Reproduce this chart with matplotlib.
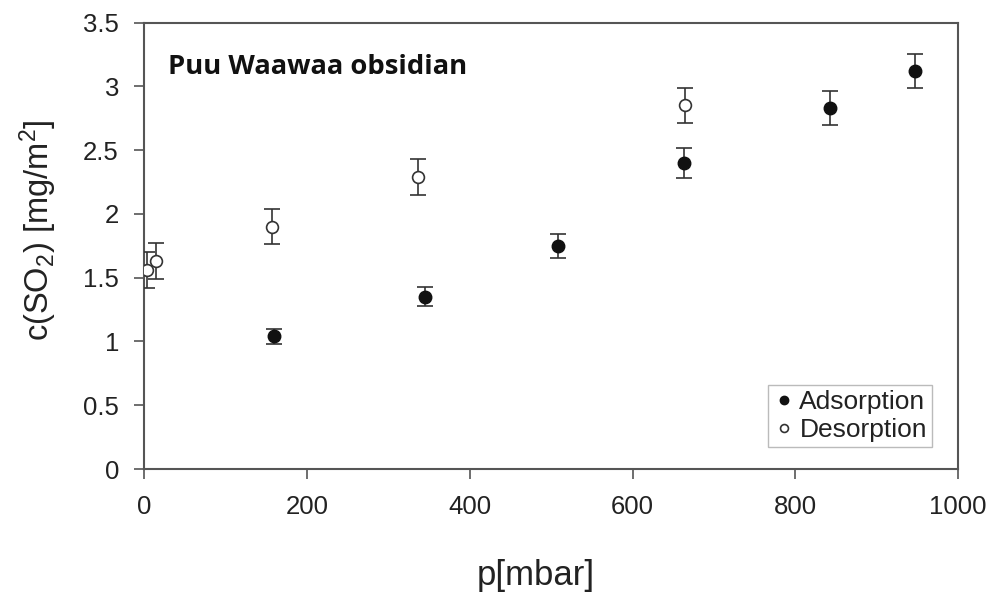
import numpy as np
import matplotlib
matplotlib.use("Agg")
import matplotlib.pyplot as plt

plt.rcParams['font.family'] = ['Liberation Sans', 'DejaVu Sans']
plt.rcParams['mathtext.default'] = 'regular'

# adsorption branch
ads_p = [160, 345, 509, 663, 843, 947]
ads_c = [1.04, 1.35, 1.75, 2.40, 2.83, 3.12]
ads_err = [0.06, 0.075, 0.095, 0.12, 0.13, 0.135]

# desorption branch
des_p = [4, 15, 157, 337, 665]
des_c = [1.56, 1.63, 1.90, 2.29, 2.85]
des_err = [0.14, 0.14, 0.135, 0.14, 0.135]

fig = plt.figure(figsize=(9.93, 5.93), dpi=100)
ax = fig.add_axes([0.145, 0.209, 0.82, 0.753])

ax.errorbar(des_p, des_c, yerr=des_err, fmt='o', mfc='white', mec='#333333',
            mew=1.2, ms=8.5, ecolor='#333333', elinewidth=1.2, capsize=6,
            capthick=1.2, label='Desorption', zorder=3)
ax.errorbar(ads_p, ads_c, yerr=ads_err, fmt='o', mfc='#111111', mec='#111111',
            ms=9, ecolor='#333333', elinewidth=1.2, capsize=6, capthick=1.2,
            label='Adsorption', zorder=4)

ax.set_xlim(0, 1000)
ax.set_ylim(0, 3.5)
ax.set_xticks([0, 200, 400, 600, 800, 1000])
ax.set_yticks([0, 0.5, 1, 1.5, 2, 2.5, 3, 3.5])
ax.set_yticklabels(['0', '0.5', '1', '1.5', '2', '2.5', '3', '3.5'])

for s in ax.spines.values():
    s.set_color('#555555')
    s.set_linewidth(1.5)
ax.tick_params(direction='out', length=7, width=1.2, color='#555555',
               labelsize=18.5, labelcolor='#222222')
ax.tick_params(axis='x', pad=12)
ax.tick_params(axis='y', pad=11)

# axis titles placed by hand (they sit off-centre in the original)
fig.text(536 / 993, 1 - 575 / 593, 'p[mbar]', fontsize=25, color='#222222',
         ha='center', va='center')
fig.text(38 / 993, 1 - 230 / 593, r'c(SO$_2$) [mg/m$^2$]', fontsize=23.5,
         color='#222222', ha='center', va='center', rotation=90)

ax.text(0.03, 0.9, 'Puu Waawaa obsidian', transform=ax.transAxes,
        fontsize=19.7, fontweight='bold', family=['Open Sans', 'DejaVu Sans'],
        color='#111111', va='center', ha='left')

h, l = ax.get_legend_handles_labels()
order = [l.index('Adsorption'), l.index('Desorption')]
leg = ax.legend([h[i][0] for i in order], [l[i] for i in order],
                loc='lower right', bbox_to_anchor=(0.968, 0.049),
                borderaxespad=0, fontsize=19, markerscale=0.67,
                handletextpad=0.2, handlelength=0.8, borderpad=0.2,
                labelspacing=0.15, fancybox=False, framealpha=1,
                edgecolor='#bbbbbb')
leg.get_frame().set_linewidth(1.0)
for t in leg.get_texts():
    t.set_color('#222222')

fig.savefig('out.png', dpi=100)
